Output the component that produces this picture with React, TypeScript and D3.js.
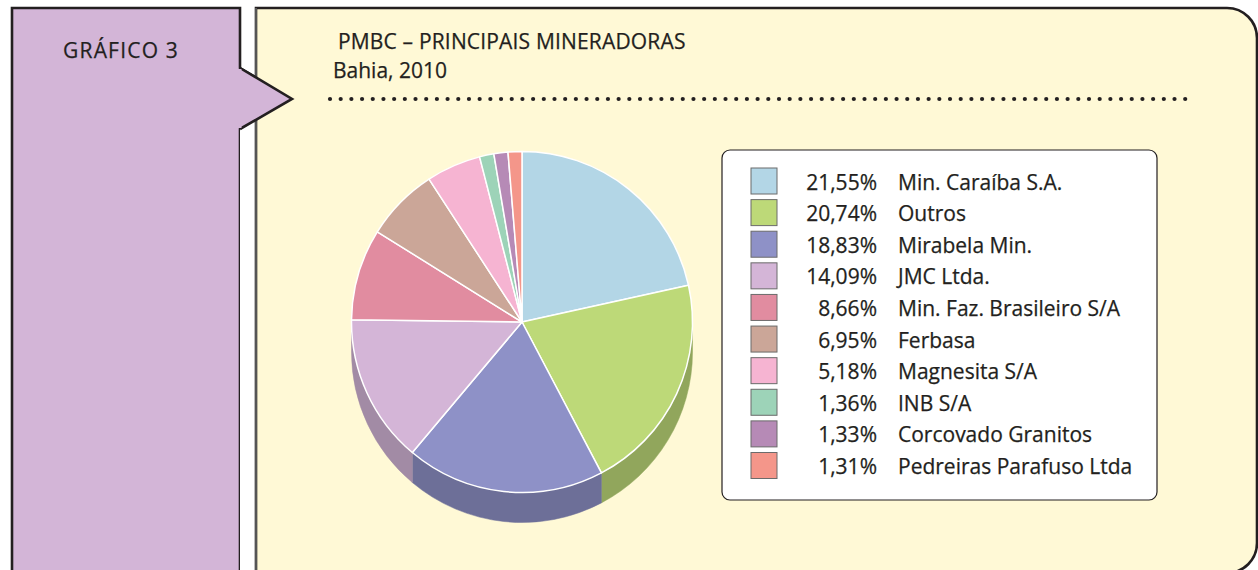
import React from "react";
import * as d3 from "d3";

const companies = [
  "Min. Caraíba S.A.",
  "Outros",
  "Mirabela Min.",
  "JMC Ltda.",
  "Min. Faz. Brasileiro S/A",
  "Ferbasa",
  "Magnesita S/A",
  "INB S/A",
  "Corcovado Granitos",
  "Pedreiras Parafuso Ltda",
];
const shares = [21.55, 20.74, 18.83, 14.09, 8.66, 6.95, 5.18, 1.36, 1.33, 1.31];
const colors = [
  "#B3D6E6",
  "#BDD978",
  "#8E91C7",
  "#D4B5D7",
  "#E18CA0",
  "#CBA698",
  "#F6B4D2",
  "#9DD3B8",
  "#B68AB6",
  "#F4968A",
];

const W = 1258;
const H = 570;
const FONT = "'Open Sans', 'Noto Sans', sans-serif";
const INK = "#231F20";

const fmt = (v: number) => v.toFixed(2).replace(".", ",") + "%";

const textStyle = { stroke: INK, strokeWidth: 0.25 } as const;

export default function App() {
  const cx = 522;
  const cy = 322;
  const r = 170.5;
  const depth = 30;

  const pie = d3
    .pie<number>()
    .sort(null)
    .startAngle(0)
    .endAngle(2 * Math.PI)
    .value((d) => d);
  const arcs = pie(shares);
  const arcGen = d3.arc<d3.PieArcDatum<number>>().innerRadius(0).outerRadius(r);

  const pt = (a: number, dy = 0) => [r * Math.sin(a), -r * Math.cos(a) + dy];

  const sides = arcs
    .map((d, i) => {
      const a0 = Math.max(d.startAngle, Math.PI / 2);
      const a1 = Math.min(d.endAngle, (3 * Math.PI) / 2);
      if (a1 <= a0) return null;
      const [x0, y0] = pt(a0);
      const [x1, y1] = pt(a1);
      const [x1b, y1b] = pt(a1, depth);
      const [x0b, y0b] = pt(a0, depth);
      const path = `M${x0},${y0} A${r},${r} 0 0 1 ${x1},${y1} L${x1b},${y1b} A${r},${r} 0 0 0 ${x0b},${y0b} Z`;
      const c = d3.color(colors[i])!.darker(0.75).toString();
      return { path, c, i };
    })
    .filter(Boolean) as { path: string; c: string; i: number }[];

  // dotted rule
  const dotXs = d3.range(330, 1186, 10.69);

  // legend
  const legX = 722;
  const legY = 150;
  const legW = 435;
  const legH = 350;
  const rowY = d3
    .scaleLinear()
    .domain([0, companies.length - 1])
    .range([168, 452.5]);

  return (
    <svg
      width={W}
      height={H}
      style={{ position: "absolute", left: 0, top: 0, display: "block" }}
      fontFamily={FONT}
    >
      <rect x={0} y={0} width={W} height={H} fill="#ffffff" />
      {/* left purple tab */}
      <path
        d="M12,8 L240,8 L240,68 L292,99 L240,129 L240,600 L12,600 Z"
        fill="#D3B5D7"
        stroke={INK}
        strokeWidth={2.6}
      />
      <text x={63} y={58.3} fontSize={21} letterSpacing={1.2} fill={INK} {...textStyle}>
        GRÁFICO 3
      </text>
      {/* yellow panel */}
      <path
        d="M256,600 L256,8 L1227,8 A30,30 0 0 1 1257,38 L1257,543 A30,30 0 0 1 1227,573 L256,573"
        fill="#FFF9D6"
        stroke={INK}
        strokeWidth={2.6}
      />
      <rect x={240} y={120} width={14} height={460} fill="#ffffff" />
      <line x1={256} y1={8} x2={256} y2={580} stroke="#555" strokeWidth={2} />
      <path d="M240,68 L292,99 L240,129" fill="#D3B5D7" stroke={INK} strokeWidth={2.6} />
      <line x1={240} y1={69} x2={240} y2={128} stroke="#D3B5D7" strokeWidth={3} />

      <text x={338} y={48.5} fontSize={21} letterSpacing={0.17} fill={INK} {...textStyle}>
        PMBC – PRINCIPAIS MINERADORAS
      </text>
      <text x={333} y={77.5} fontSize={21} fill={INK} {...textStyle}>
        Bahia, 2010
      </text>
      {dotXs.map((x, k) => (
        <circle key={k} cx={x} cy={99} r={2.1} fill={INK} />
      ))}

      {/* pie */}
      <g transform={`translate(${cx},${cy})`}>
        {sides.map((s) => (
          <path key={s.i} d={s.path} fill={s.c} stroke={s.c} strokeWidth={0.5} />
        ))}
        {arcs.map((d, i) => (
          <path
            key={i}
            d={arcGen(d) || ""}
            fill={colors[i]}
            stroke="#ffffff"
            strokeWidth={1.5}
            strokeLinejoin="round"
          />
        ))}
      </g>

      {/* legend */}
      <rect
        x={legX}
        y={legY}
        width={legW}
        height={legH}
        rx={8}
        fill="#ffffff"
        stroke={INK}
        strokeWidth={1.2}
      />
      {companies.map((name, i) => {
        const y = rowY(i);
        return (
          <g key={name}>
            <rect
              x={751}
              y={y}
              width={26}
              height={26}
              fill={colors[i]}
              stroke="#6b6b6b"
              strokeWidth={1}
            />
            <text x={877} y={y + 21.5} fontSize={21} fill={INK} textAnchor="end" {...textStyle}>
              {fmt(shares[i])}
            </text>
            <text x={898} y={y + 21.5} fontSize={21} fill={INK} {...textStyle}>
              {name}
            </text>
          </g>
        );
      })}
    </svg>
  );
}
